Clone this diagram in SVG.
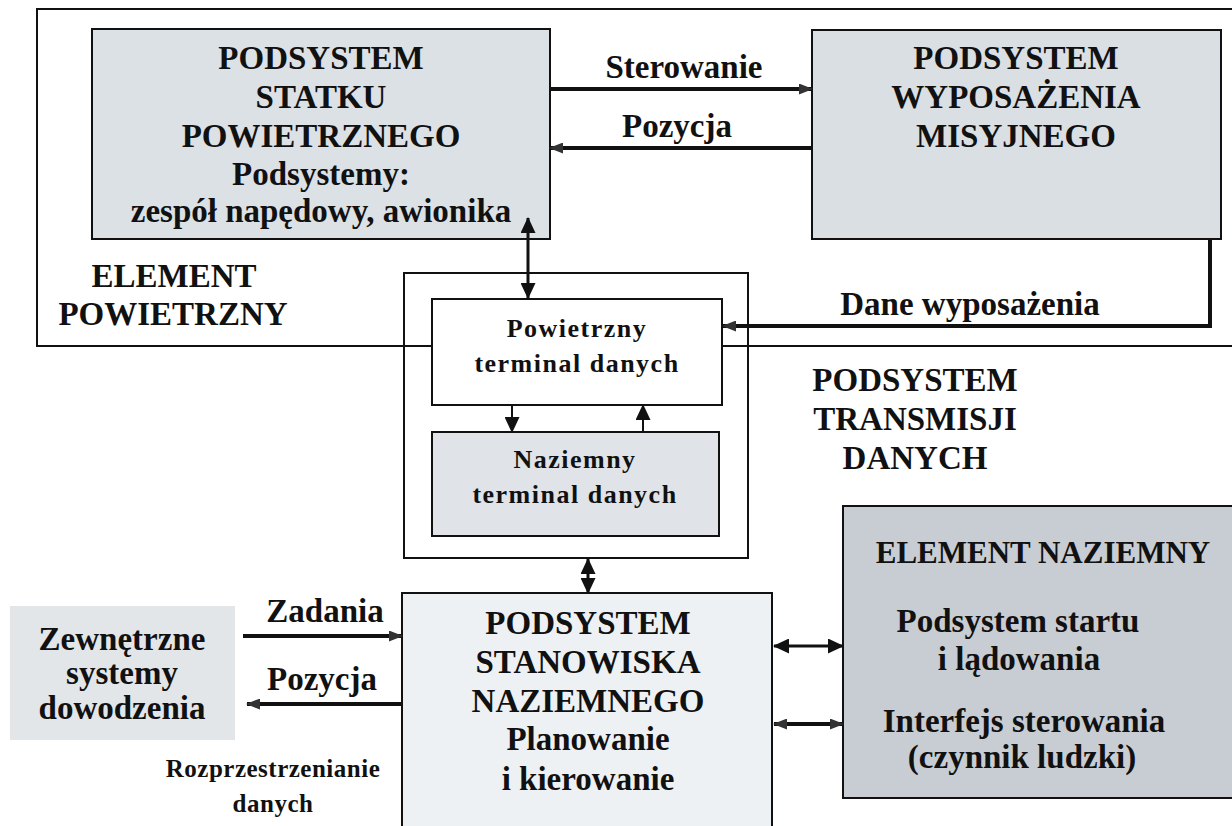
<svg xmlns="http://www.w3.org/2000/svg" width="1232" height="826" viewBox="0 0 1232 826">
<defs>
<style>
text{font-family:"Liberation Serif","Times New Roman",serif;font-weight:bold;fill:#111;text-anchor:middle}
.big{font-size:33px}
.mid{font-size:26px;letter-spacing:1.5px}
.sm{font-size:25px;letter-spacing:0.5px}
.box{stroke:#111;stroke-width:2}
.conn{stroke:#111;fill:none}
</style>
<marker id="ah" markerUnits="userSpaceOnUse" markerWidth="16" markerHeight="15" refX="15" refY="7.5" orient="auto-start-reverse">
<path d="M0,0 L16,7.5 L0,15 z" fill="#111"/>
</marker>
<marker id="ahs" markerUnits="userSpaceOnUse" markerWidth="14" markerHeight="11" refX="13" refY="5.5" orient="auto-start-reverse">
<path d="M0,0 L14,5.5 L0,11 z" fill="#333"/>
</marker>
</defs>
<rect width="1232" height="826" fill="#fff"/>

<g id="element-powietrzny">
<rect x="37" y="9" width="1200" height="337" fill="none" stroke="#111" stroke-width="2"/>
<text class="big" x="174" y="287">ELEMENT</text>
<text class="big" x="173" y="325">POWIETRZNY</text>
</g>

<g id="podsystem-transmisji">
<rect x="404" y="273" width="344" height="285" fill="none" stroke="#111" stroke-width="2"/>
<text class="big" x="915" y="391">PODSYSTEM</text>
<text class="big" x="915" y="430">TRANSMISJI</text>
<text class="big" x="915" y="469">DANYCH</text>
</g>

<g id="statek">
<rect class="box" x="92" y="29" width="458" height="210" fill="#dce1e6"/>
<text class="big" x="321" y="69">PODSYSTEM</text>
<text class="big" x="321" y="108">STATKU</text>
<text class="big" x="321" y="147">POWIETRZNEGO</text>
<text class="big" x="321" y="185">Podsystemy:</text>
<text class="big" x="321" y="222">zespół napędowy, awionika</text>
</g>

<g id="wyposazenie">
<rect class="box" x="812" y="30" width="409" height="209" fill="#dadfe4"/>
<text class="big" x="1016" y="69">PODSYSTEM</text>
<text class="big" x="1016" y="108">WYPOSAŻENIA</text>
<text class="big" x="1016" y="147">MISYJNEGO</text>
</g>

<g id="powietrzny-terminal">
<rect class="box" x="432" y="299" width="290" height="106" fill="#fff"/>
<text class="mid" x="577" y="337">Powietrzny</text>
<text class="mid" x="577" y="372">terminal danych</text>
</g>

<g id="naziemny-terminal">
<rect class="box" x="432" y="432" width="287" height="104" fill="#e0e4e8"/>
<text class="mid" x="575" y="468">Naziemny</text>
<text class="mid" x="575" y="503">terminal danych</text>
</g>

<g id="stanowisko">
<rect class="box" x="402" y="593" width="370" height="240" fill="#eef1f4"/>
<text class="big" x="588" y="634">PODSYSTEM</text>
<text class="big" x="588" y="673">STANOWISKA</text>
<text class="big" x="588" y="712">NAZIEMNEGO</text>
<text class="big" x="588" y="750">Planowanie</text>
<text class="big" x="588" y="790">i kierowanie</text>
</g>

<g id="element-naziemny">
<rect class="box" x="843" y="506" width="400" height="292" fill="#c8cdd3"/>
<text class="big" x="1043" y="563" style="font-size:31px">ELEMENT NAZIEMNY</text>
<text class="big" x="1018" y="632">Podsystem startu</text>
<text class="big" x="1019" y="670">i lądowania</text>
<text class="big" x="1024" y="732">Interfejs sterowania</text>
<text class="big" x="1022" y="768">(czynnik ludzki)</text>
</g>

<g id="zewnetrzne">
<rect x="10" y="606" width="225" height="134" fill="#e3e6e9"/>
<text class="big" x="122" y="650">Zewnętrzne</text>
<text class="big" x="122" y="684">systemy</text>
<text class="big" x="122" y="719">dowodzenia</text>
</g>

<g id="connectors">
<line class="conn" x1="550" y1="89" x2="812" y2="89" stroke-width="4" marker-end="url(#ahs)"/>
<line class="conn" x1="812" y1="148" x2="550" y2="148" stroke-width="4" marker-end="url(#ahs)"/>
<line class="conn" x1="528" y1="218" x2="528" y2="298" stroke-width="3" marker-start="url(#ah)" marker-end="url(#ah)"/>
<polyline class="conn" points="1210,239 1210,326 723,326" stroke-width="4" marker-end="url(#ahs)"/>
<line class="conn" x1="512" y1="405" x2="512" y2="432" stroke-width="2" marker-end="url(#ah)"/>
<line class="conn" x1="643" y1="432" x2="643" y2="405" stroke-width="2" marker-end="url(#ah)"/>
<line class="conn" x1="588" y1="559" x2="588" y2="593" stroke-width="3" marker-start="url(#ah)" marker-end="url(#ah)"/>
<line class="conn" x1="243" y1="636" x2="402" y2="636" stroke-width="4" marker-end="url(#ahs)"/>
<line class="conn" x1="402" y1="704" x2="247" y2="704" stroke-width="4" marker-end="url(#ahs)"/>
<line class="conn" x1="774" y1="646" x2="843" y2="646" stroke-width="3" marker-start="url(#ah)" marker-end="url(#ah)"/>
<line class="conn" x1="774" y1="724" x2="843" y2="724" stroke-width="4" marker-start="url(#ahs)" marker-end="url(#ahs)"/>
<text class="big" x="684" y="78">Sterowanie</text>
<text class="big" x="677" y="137">Pozycja</text>
<text class="big" x="970" y="315">Dane wyposażenia</text>
<text class="big" x="325" y="622">Zadania</text>
<text class="big" x="322" y="690">Pozycja</text>
<text class="sm" x="273" y="777">Rozprzestrzenianie</text>
<text class="sm" x="273" y="812">danych</text>
</g>
</svg>
